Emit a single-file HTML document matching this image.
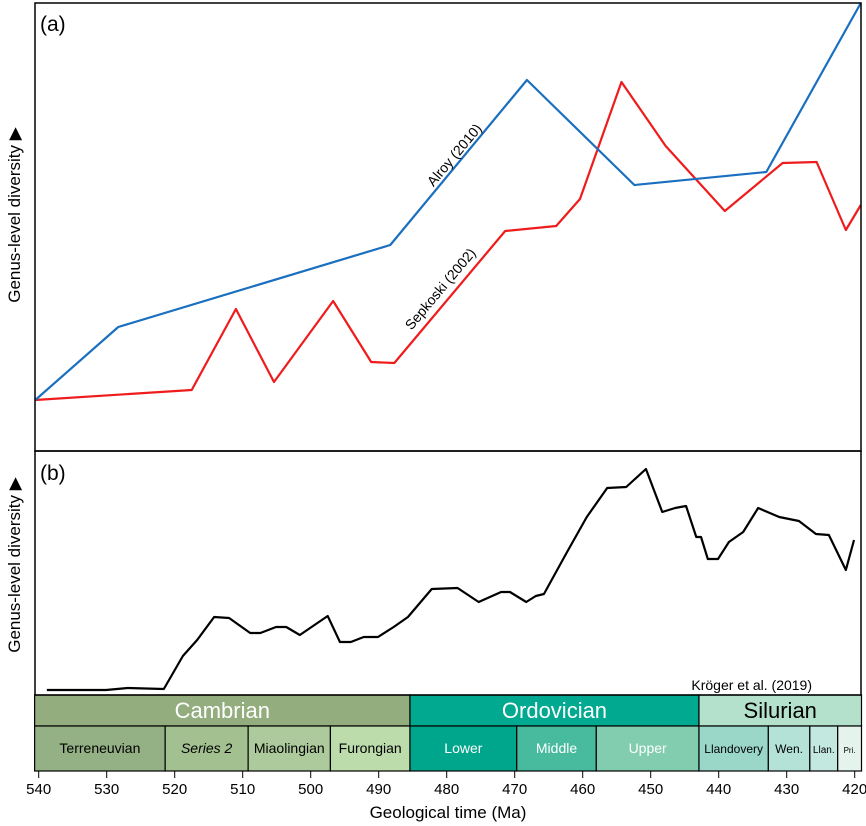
<!DOCTYPE html>
<html><head><meta charset="utf-8"><style>
body{margin:0;background:#fff}
svg{display:block;font-family:"Liberation Sans",sans-serif}
</style></head><body>
<svg id="c" width="866" height="826" viewBox="0 0 866 826">
<g id="scale"></g>
<g id="plots"></g>
<rect x="35" y="3" width="826" height="448" fill="none" stroke="#000" stroke-width="1.5"/>
<rect x="35" y="451" width="826" height="244" fill="none" stroke="#000" stroke-width="1.5"/>
<text x="40" y="31" font-size="21">(a)</text>
<text x="40" y="480" font-size="21">(b)</text>
<text transform="translate(20,215) rotate(-90)" text-anchor="middle" font-size="17">Genus-level diversity ▶</text>
<text transform="translate(20,565) rotate(-90)" text-anchor="middle" font-size="17">Genus-level diversity ▶</text>
<text transform="translate(458,158) rotate(-50)" text-anchor="middle" font-size="14">Alroy (2010)</text>
<text transform="translate(444,292) rotate(-50)" text-anchor="middle" font-size="14">Sepkoski (2002)</text>
<text x="812" y="690" text-anchor="end" font-size="14">Kröger et al. (2019)</text>
<text x="448" y="818" text-anchor="middle" font-size="17">Geological time (Ma)</text>
</svg>
<script>
const alroyT=[540.5,528.3,488.3,468.2,452.4,433.0,419.1];
const alroyV=[51,124,206,371,266,279,448];
const sepT=[540.5,517.5,511.0,505.4,496.7,491.1,487.7,471.4,463.9,460.4,454.3,447.8,439.1,430.6,425.6,421.3,419.1];
const sepV=[51,61,142,69,150,89,88,220,225,252,369,305,240,288,289,221,246];
const krT=[538.8,530.1,526.9,521.6,518.8,516.7,514.2,512.0,508.9,507.4,505.1,503.6,501.6,497.5,495.7,494.1,492.2,490.1,487.8,485.7,482.2,478.4,475.3,472.0,470.7,468.3,466.9,465.7,462.3,459.4,456.4,453.6,450.7,448.3,446.4,444.8,443.3,442.6,441.6,440.1,438.5,436.4,434.2,431.1,428.2,425.7,423.8,421.3,420.1];
const krV=[5,5,7,6,39,55,78,77,62,62,68,68,60,79,53,53,58,58,68,78,106,107,93,103,103,93,99,101,143,178,207,208,226,183,187,189,158,158,136,136,153,163,187,178,174,161,160,125,155];
const ticks=[540,530,520,510,500,490,480,470,460,450,440,430,420];
const periods=[["Cambrian",540.6,485.4,"#93ad7e","#fff"],["Ordovician",485.4,442.9,"#00a990","#fff"],["Silurian",442.9,419.0,"#b3e1cc","#000"]];
const epochs=[["Terreneuvian",540.6,521.4,"#94b085","#000",14],["Series 2",521.4,509.2,"#a3c190","#000",14],["Miaolingian",509.2,497.1,"#adca9c","#000",14],["Furongian",497.1,485.4,"#bcdcac","#000",14],["Lower",485.4,469.7,"#00a68b","#fff",14],["Middle",469.7,458.0,"#48bb9e","#fff",14],["Upper",458.0,442.9,"#82ccb0","#fff",14],["Llandovery",442.9,432.7,"#9ad7c9","#000",12],["Wen.",432.7,426.6,"#b4e2d6","#000",12],["Llan.",426.6,422.5,"#c3e8df","#000",10],["Pri.",422.5,419.0,"#e4f4ec","#000",8]];
const NS="http://www.w3.org/2000/svg";
const xS=t=>38.7+(540-t)*6.8;
const yA=v=>451-v;
const yB=v=>695-v;
function mk(tag,attrs,parent){const e=document.createElementNS(NS,tag);for(const k in attrs)e.setAttribute(k,attrs[k]);parent.appendChild(e);return e;}
const sc=document.getElementById('scale'),pl=document.getElementById('plots');
periods.forEach(p=>{const r=mk('rect',{x:xS(p[1]),y:695,width:xS(p[2])-xS(p[1]),height:31,fill:p[3],stroke:'#000','stroke-width':1.2},sc);


const t=mk('text',{x:(xS(p[1])+xS(p[2]))/2,y:718,'text-anchor':'middle','font-size':22,fill:p[4]},sc);t.textContent=p[0];

});
epochs.forEach(p=>{const r=mk('rect',{x:xS(p[1]),y:726,width:xS(p[2])-xS(p[1]),height:45,fill:p[3],stroke:'#000','stroke-width':1.2},sc);


const t=mk('text',{x:(xS(p[1])+xS(p[2]))/2,y:753,'text-anchor':'middle','font-size':p[5],fill:p[4]},sc);t.textContent=p[0];
if(p[0]==="Series 2")t.setAttribute('font-style','italic');

});
ticks.forEach(v=>{const l=mk('line',{x1:xS(v),x2:xS(v),y1:771,y2:778,stroke:'#000','stroke-width':1},sc);


const t=mk('text',{x:xS(v),y:794,'text-anchor':'middle','font-size':15},sc);t.textContent=v;

});
function line(T,V,yf,col,name){const p=mk('polyline',{points:T.map((t,i)=>xS(t)+','+yf(V[i])).join(' '),fill:'none',stroke:col,'stroke-width':2.2,'stroke-linejoin':'round'},pl);

}
line(sepT,sepV,yA,'#ee1c1c','sepkoski-line');
line(alroyT,alroyV,yA,'#1a6fbf','alroy-line');
line(krT,krV,yB,'#000','kroger-line');
</script>
</body></html>
